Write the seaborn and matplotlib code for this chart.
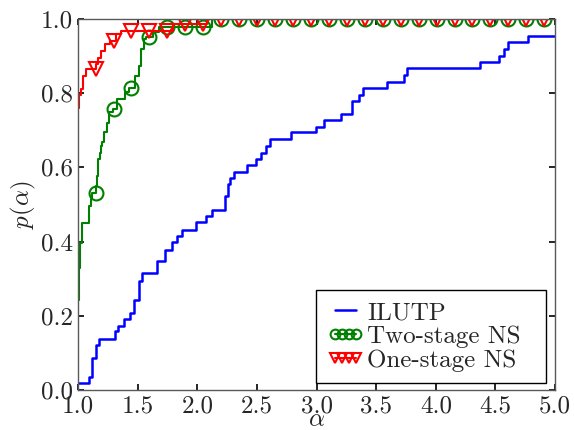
import numpy as np
import matplotlib
matplotlib.use("Agg")
import matplotlib.pyplot as plt
import seaborn as sns
from matplotlib.lines import Line2D

# ---------------- data (performance profile, step breakpoints) ----------------
ilutp_alpha = [1.0, 1.092, 1.115, 1.149, 1.176, 1.311, 1.333, 1.389, 1.437, 1.465,
               1.513, 1.535, 1.661, 1.725, 1.787, 1.829, 1.871, 1.992, 2.076, 2.123,
               2.23, 2.255, 2.277, 2.311, 2.414, 2.49, 2.535, 2.58, 2.613, 2.782,
               2.992, 3.061, 3.202, 3.294, 3.356, 3.392, 3.594, 3.734, 3.762, 4.372,
               4.532, 4.574, 4.602, 4.771, 5.0]
ilutp_p = [0.018, 0.036, 0.086, 0.122, 0.138, 0.158, 0.173, 0.191, 0.207, 0.243,
           0.293, 0.314, 0.347, 0.378, 0.398, 0.416, 0.432, 0.452, 0.468, 0.485,
           0.523, 0.554, 0.572, 0.588, 0.606, 0.622, 0.64, 0.658, 0.676, 0.694,
           0.71, 0.728, 0.745, 0.779, 0.795, 0.814, 0.831, 0.849, 0.867, 0.885,
           0.901, 0.919, 0.937, 0.953, 0.953]

two_alpha = [1.0, 1.004, 1.008, 1.013, 1.02, 1.035, 1.095, 1.11, 1.12, 1.15,
             1.16, 1.165, 1.18, 1.19, 1.2, 1.22, 1.24, 1.26, 1.29, 1.33,
             1.39, 1.43, 1.48, 1.51, 1.525, 1.55, 1.57, 1.63, 1.68, 2.12, 5.0]
two_p = [0.243, 0.29, 0.33, 0.37, 0.397, 0.45, 0.495, 0.514, 0.531, 0.55,
         0.577, 0.622, 0.64, 0.658, 0.667, 0.694, 0.72, 0.748, 0.757, 0.784,
         0.802, 0.813, 0.847, 0.874, 0.919, 0.946, 0.95, 0.964, 0.977, 1.0, 1.0]

one_alpha = [1.0, 1.01, 1.025, 1.04, 1.07, 1.15, 1.165, 1.19, 1.23, 1.27,
             1.32, 1.36, 1.80, 2.08, 5.0]
one_p = [0.76, 0.795, 0.81, 0.847, 0.865, 0.878, 0.896, 0.914, 0.932, 0.94,
         0.959, 0.968, 0.986, 1.0, 1.0]

series_labels = ["ILUTP", "Two-stage NS", "One-stage NS"]
x_ticks = [1.0, 1.5, 2.0, 2.5, 3.0, 3.5, 4.0, 4.5, 5.0]
y_ticks = [0.0, 0.2, 0.4, 0.6, 0.8, 1.0]

# marker positions along alpha (evenly spaced, as markevery on a uniform grid)
marker_start, marker_step, marker_count = 1.147, 0.1505, 26
marker_alpha = marker_start + marker_step * np.arange(marker_count)


def step_value(xs, ys, at):
    xs = np.asarray(xs)
    ys = np.asarray(ys)
    idx = np.searchsorted(xs, at, side="right") - 1
    return ys[np.clip(idx, 0, len(ys) - 1)]


# ---------------- style ----------------
sns.set_style("ticks")
plt.rcParams["font.family"] = ["cmr10", "DejaVu Serif"]
plt.rcParams["mathtext.fontset"] = "cm"
plt.rcParams["axes.formatter.use_mathtext"] = True
plt.rcParams["axes.unicode_minus"] = False

fig = plt.figure(figsize=(5.74, 4.30), dpi=100)
ax = fig.add_axes([0.136, 0.093, 0.831, 0.863])

blue, green, red = "#0000ff", "#008000", "#ff0000"

sns.lineplot(x=ilutp_alpha, y=ilutp_p, ax=ax, color=blue, lw=1.8,
             drawstyle="steps-post", estimator=None, sort=False)
sns.lineplot(x=two_alpha, y=two_p, ax=ax, color=green, lw=1.5,
             drawstyle="steps-post", estimator=None, sort=False)
sns.lineplot(x=marker_alpha, y=step_value(two_alpha, two_p, marker_alpha), ax=ax,
             color=green, linestyle="", marker="o", markersize=10,
             markerfacecolor="none", markeredgecolor=green, markeredgewidth=1.5,
             estimator=None, sort=False)
sns.lineplot(x=one_alpha, y=one_p, ax=ax, color=red, lw=1.5,
             drawstyle="steps-post", estimator=None, sort=False)
sns.lineplot(x=marker_alpha, y=step_value(one_alpha, one_p, marker_alpha), ax=ax,
             color=red, linestyle="", marker="v", markersize=10,
             markerfacecolor="none", markeredgecolor=red, markeredgewidth=1.5,
             estimator=None, sort=False)

ax.set_xlim(1.0, 5.0)
ax.set_ylim(0.0, 1.0)
ax.set_xticks(x_ticks)
ax.set_yticks(y_ticks)
ax.set_xticklabels([f"{v:.1f}" for v in x_ticks])
ax.set_yticklabels([f"{v:.1f}" for v in y_ticks])
ax.tick_params(direction="in", length=4, width=1.2, color="black",
               labelsize=18, top=True, right=True, pad=4)
for sp in ax.spines.values():
    sp.set_visible(True)
    sp.set_color("0.35")
    sp.set_linewidth(1.0)

ax.set_xlabel(r"$\alpha$", fontsize=18, labelpad=-6.5)
ax.set_ylabel(r"$p(\alpha)$", fontsize=18, labelpad=2)

handles = [
    Line2D([], [], color=blue, lw=1.8),
    Line2D([], [], color=green, lw=1.5, marker="o", markersize=7,
           markerfacecolor="none", markeredgewidth=1.5),
    Line2D([], [], color=red, lw=1.5, marker="v", markersize=7,
           markerfacecolor="none", markeredgewidth=1.5),
]
leg = ax.legend(handles, series_labels, loc="lower left", fontsize=18,
                bbox_to_anchor=(0.499, 0.019, 0.482, 0.24), mode="expand",
                numpoints=4, handlelength=1.45, handletextpad=0.15,
                labelspacing=0.05, borderpad=0.45, borderaxespad=0.0,
                fancybox=False, framealpha=1.0, edgecolor="black")
leg.get_frame().set_linewidth(1.0)

fig.savefig("out.png", dpi=100)
